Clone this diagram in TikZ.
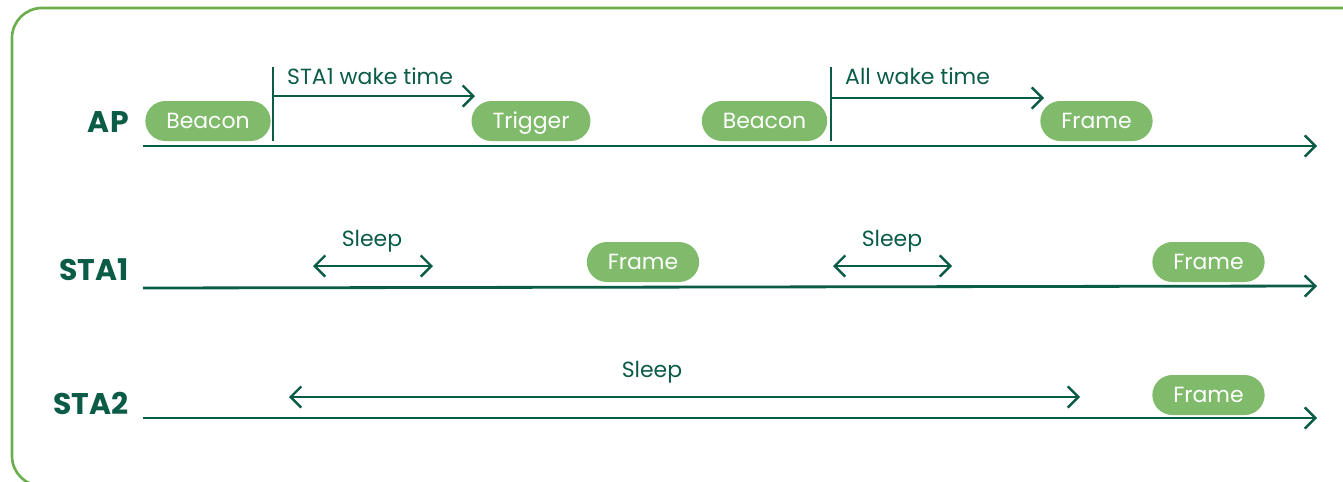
\documentclass[tikz,border=0pt]{standalone}
\usepackage{fontspec}
\setmainfont{Poppins}
\usetikzlibrary{arrows.meta,shapes.misc}

\definecolor{linegreen}{HTML}{0B5C47}
\definecolor{pillgreen}{HTML}{7FBB6B}
\definecolor{framegreen}{HTML}{6AAF4C}

\tikzstyle{tl}=[draw=linegreen,line width=1.6pt]
\tikzstyle{tip}=[-{Straight Barb[length=6pt,width=12pt,line width=1.4pt]}]
\tikzstyle{both}=[{Straight Barb[length=6pt,width=12pt,line width=1.4pt]}-{Straight Barb[length=6pt,width=12pt,line width=1.4pt]}]
\tikzstyle{pill}=[shape=rounded rectangle,fill=pillgreen,text=white,minimum height=0.8cm,inner xsep=0.37cm,text height=1.75ex,text depth=0.25ex,font=\fontsize{12.5}{14}\selectfont]
\tikzstyle{lane}=[text=linegreen,font=\fontsize{17}{20}\selectfont\bfseries,anchor=east,inner sep=0pt]
\tikzstyle{note}=[text=linegreen,font=\fontsize{12.5}{14}\selectfont]

\begin{document}
\begin{tikzpicture}[x=0.02cm,y=-0.02cm]
        \useasboundingbox (0,0) rectangle (1343,481);
        \clip (0,0) rectangle (1343,481);
        \draw[framegreen,line width=1.5pt,rounded corners=0.6cm] (12,8) rectangle (1380,486);
        % lanes
        \node[lane] (ap) at (129,122) {AP};
        \node[lane] (sta1) at (129,270) {STA1};
        \node[lane] (sta2) at (129,403) {STA2};
        \coordinate (aps) at (143,146);
        \coordinate (ape) at (1317,146);
        \coordinate (sta1s) at (143,288);
        \coordinate (sta1e) at (1317,286);
        \coordinate (sta2s) at (143,418);
        \coordinate (sta2e) at (1317,418);
        \draw[tl,tip] (aps) -- (ape);
        \draw[tl,tip] (sta1s) -- (sta1e);
        \draw[tl,tip] (sta2s) -- (sta2e);
        % frames
        \node[pill] (beacon1) at (208,121) {Beacon};
        \node[pill] (trigger) at (531,121) {Trigger};
        \node[pill] (beacon2) at (764.5,121) {Beacon};
        \node[pill] (frameap) at (1096.5,121) {Frame};
        \node[pill] (frame1a) at (643,262) {Frame};
        \node[pill] (frame1b) at (1208.5,262) {Frame};
        \node[pill] (frame2) at (1208.5,395) {Frame};
        % wake times
        \coordinate (w1top) at (273,67);
        \coordinate (w1bot) at (273,141);
        \coordinate (w1s) at (273,96);
        \coordinate (w1e) at (475,96);
        \draw[tl] (w1top) -- (w1bot);
        \draw[tl,tip] (w1s) -- (w1e);
        \node[note,anchor=base west] (w1lbl) at (281,84) {STA1 wake time};
        \coordinate (w2top) at (831,67);
        \coordinate (w2bot) at (831,141);
        \coordinate (w2s) at (831,98);
        \coordinate (w2e) at (1044,98);
        \draw[tl] (w2top) -- (w2bot);
        \draw[tl,tip] (w2s) -- (w2e);
        \node[note,anchor=base west] (w2lbl) at (839,84) {All wake time};
        % sleep
        \coordinate (s1a) at (313,266);
        \coordinate (s1b) at (433,266);
        \draw[tl,both] (s1a) -- (s1b);
        \node[note] (s1lbl) at (372,241) {Sleep};
        \coordinate (s2a) at (833,266);
        \coordinate (s2b) at (952,266);
        \draw[tl,both] (s2a) -- (s2b);
        \node[note] (s2lbl) at (892,241) {Sleep};
        \coordinate (s3a) at (289,397);
        \coordinate (s3b) at (1080,397);
        \draw[tl,both] (s3a) -- (s3b);
        \node[note] (s3lbl) at (652,372) {Sleep};
    \end{tikzpicture}
\end{document}
